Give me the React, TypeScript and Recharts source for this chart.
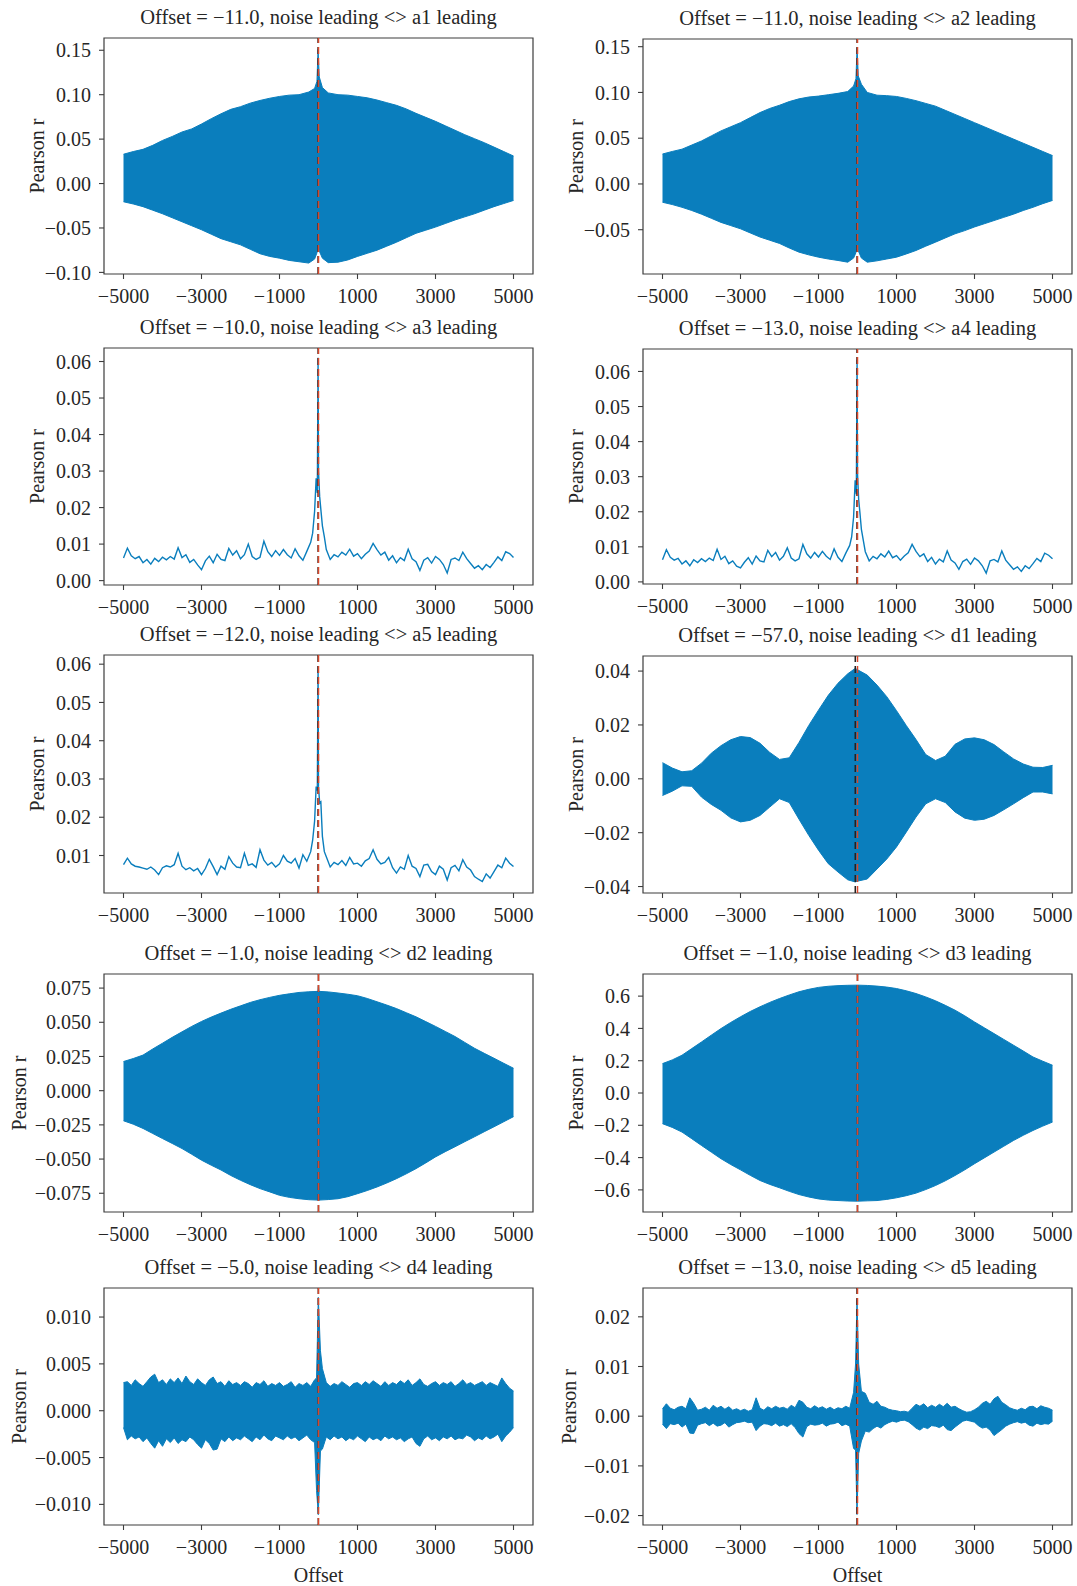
import { ComposedChart, Area, Line, XAxis, YAxis, ReferenceLine, ReferenceArea } from 'recharts';

const FONT = '"Liberation Serif", "Times New Roman", serif';
const BLUE = '#0a7ebd';
const RED = '#d9472b';
const INK = '#262626';
const FRAME = '#3d3d3d';

const X_TICKS = [-5000, -3000, -1000, 1000, 3000, 5000];
const X_DOMAIN: [number, number] = [-5500, 5500];

// evenly spaced offset grid
const range = (from: number, to: number, step: number) => {
  const out: number[] = [];
  for (let v = from; v <= to; v += step) out.push(v);
  return out;
};

// ---- a1 / a2 envelopes ----
const aEnvX = [...range(-5000, -250, 250), -100, -40, -11, 20, 100, ...range(250, 5000, 250)];
const a1Hi = [0.033, 0.036, 0.0385, 0.043, 0.0485, 0.053, 0.058, 0.0615, 0.067, 0.073, 0.0785, 0.0835, 0.0865, 0.0905, 0.0935, 0.096, 0.098, 0.0995, 0.1, 0.103,
  0.107, 0.115, 0.151, 0.12, 0.108,
  0.102, 0.1, 0.0995, 0.098, 0.0965, 0.094, 0.091, 0.088, 0.084, 0.079, 0.0745, 0.07, 0.065, 0.06, 0.055, 0.0505, 0.046, 0.041, 0.036, 0.031];
const a1Lo = [-0.0205, -0.023, -0.026, -0.03, -0.034, -0.0385, -0.043, -0.0475, -0.052, -0.057, -0.062, -0.0655, -0.069, -0.074, -0.079, -0.082, -0.084, -0.0865, -0.088, -0.0895,
  -0.085, -0.078, -0.072, -0.076, -0.084,
  -0.089, -0.0885, -0.086, -0.082, -0.0785, -0.075, -0.0705, -0.066, -0.061, -0.056, -0.0525, -0.049, -0.045, -0.041, -0.0375, -0.034, -0.03, -0.026, -0.0225, -0.019];
const a2Hi = [0.0327, 0.0355, 0.038, 0.0425, 0.047, 0.0525, 0.058, 0.0625, 0.067, 0.0725, 0.078, 0.0825, 0.086, 0.09, 0.093, 0.095, 0.096, 0.0975, 0.099, 0.101,
  0.107, 0.115, 0.149, 0.118, 0.109,
  0.1, 0.097, 0.0965, 0.0956, 0.0935, 0.091, 0.088, 0.085, 0.0805, 0.076, 0.0715, 0.067, 0.0625, 0.058, 0.0535, 0.049, 0.0445, 0.04, 0.0355, 0.031];
const a2Lo = [-0.02, -0.0225, -0.0255, -0.029, -0.033, -0.0375, -0.042, -0.0455, -0.049, -0.0535, -0.058, -0.0615, -0.065, -0.07, -0.0745, -0.0775, -0.08, -0.082, -0.0836, -0.0855,
  -0.081, -0.075, -0.069, -0.073, -0.081,
  -0.0855, -0.084, -0.082, -0.08, -0.0765, -0.0727, -0.068, -0.0636, -0.059, -0.0545, -0.051, -0.047, -0.0435, -0.04, -0.0365, -0.033, -0.029, -0.0255, -0.0215, -0.018];

// ---- a3 / a4 / a5 lines ----
const lineX = [...range(-5000, -200, 100), -150, -100, -60, -30, -11, 0, 30, 60, 100, 150, 200, ...range(300, 5000, 100)];
const a3R = [
  0.0062, 0.0089, 0.0068, 0.006, 0.0066, 0.0049, 0.0058, 0.0045, 0.0061, 0.0052,
  0.0064, 0.0057, 0.0066, 0.0059, 0.009, 0.0063, 0.0071, 0.005, 0.0058, 0.0043,
  0.003, 0.0054, 0.0067, 0.0049, 0.0072, 0.0058, 0.0055, 0.0088, 0.007, 0.0082,
  0.006, 0.0071, 0.01, 0.0066, 0.0058, 0.0064, 0.0108, 0.0079, 0.0066, 0.0082,
  0.0069, 0.0085, 0.0071, 0.0062, 0.0087, 0.0068, 0.0056, 0.008, 0.0105,
  0.013, 0.019, 0.028, 0.024, 0.061, 0.03, 0.023, 0.0195, 0.015, 0.012, 0.0085,
  0.0058, 0.0071, 0.0065, 0.0078, 0.007, 0.0086, 0.0067,
  0.0074, 0.006, 0.0072, 0.0081, 0.0102, 0.0085, 0.007, 0.0078, 0.0056, 0.0068,
  0.0049, 0.0063, 0.0055, 0.0086, 0.006, 0.0052, 0.0028, 0.0056, 0.0063, 0.0048,
  0.0066, 0.0058, 0.0044, 0.0021, 0.0058, 0.0062, 0.0055, 0.0078, 0.006, 0.0047,
  0.0034, 0.0041, 0.003, 0.0044, 0.0036, 0.005, 0.0065, 0.0055, 0.0079, 0.0074, 0.0063];
const a4R = [
  0.0063, 0.0092, 0.007, 0.0062, 0.0067, 0.0051, 0.006, 0.0046, 0.0063, 0.0055,
  0.0066, 0.0058, 0.0068, 0.0061, 0.0093, 0.0064, 0.0073, 0.0052, 0.006, 0.0045,
  0.004, 0.0056, 0.0069, 0.0051, 0.0074, 0.006, 0.0057, 0.009, 0.0072, 0.0084,
  0.0062, 0.0073, 0.0097, 0.0068, 0.006, 0.0066, 0.0107, 0.008, 0.0068, 0.0084,
  0.0071, 0.0087, 0.0073, 0.0064, 0.0094, 0.007, 0.0058, 0.0082, 0.0104,
  0.0128, 0.0185, 0.029, 0.025, 0.0633, 0.031, 0.0235, 0.02, 0.015, 0.0118, 0.0086,
  0.006, 0.0073, 0.0066, 0.008, 0.0071, 0.0088, 0.0069,
  0.0075, 0.0062, 0.0074, 0.0083, 0.0107, 0.0087, 0.0072, 0.008, 0.0058, 0.007,
  0.0051, 0.0065, 0.0057, 0.0088, 0.0062, 0.0054, 0.0036, 0.0058, 0.0065, 0.005,
  0.0068, 0.006, 0.0046, 0.0025, 0.006, 0.0064, 0.0057, 0.0088, 0.0062, 0.0049,
  0.0036, 0.0043, 0.003, 0.0046, 0.0038, 0.0052, 0.0067, 0.0058, 0.0082, 0.0076, 0.0066];
const a5R = [
  0.0076, 0.0093, 0.0078, 0.0072, 0.007, 0.0067, 0.0064, 0.007, 0.0062, 0.005,
  0.0068, 0.0073, 0.007, 0.0076, 0.0106, 0.0072, 0.0063, 0.0068, 0.006, 0.0066,
  0.005, 0.0066, 0.009, 0.0071, 0.005, 0.0072, 0.0064, 0.0097, 0.008, 0.007,
  0.0068, 0.0106, 0.0074, 0.0078, 0.0069, 0.0115, 0.0088, 0.0075, 0.0082, 0.007,
  0.0078, 0.01, 0.0085, 0.008, 0.0092, 0.0067, 0.0102, 0.0085, 0.011,
  0.014, 0.019, 0.028, 0.027, 0.0595, 0.028, 0.0237, 0.024, 0.015, 0.011, 0.0097,
  0.007, 0.0082, 0.0076, 0.0087, 0.0074, 0.0095, 0.0078,
  0.008, 0.0072, 0.0086, 0.0092, 0.0115, 0.009, 0.0078, 0.0082, 0.0095, 0.0068,
  0.0054, 0.007, 0.0064, 0.01, 0.0072, 0.0066, 0.0045, 0.0075, 0.0077, 0.0058,
  0.005, 0.0072, 0.0064, 0.0036, 0.0068, 0.0074, 0.006, 0.0089, 0.007, 0.0062,
  0.0045, 0.0038, 0.0032, 0.0052, 0.0041, 0.0058, 0.0075, 0.0068, 0.0093, 0.008, 0.0071];

// ---- d1 envelope ----
const d1X = [...range(-5000, -250, 250), -57, 0, ...range(250, 5000, 250)];
const d1Hi = [0.006, 0.004, 0.0026, 0.003, 0.0058, 0.0095, 0.0123, 0.0145, 0.0157, 0.0153, 0.0132, 0.0098, 0.0072, 0.0078, 0.0135, 0.0198, 0.0255, 0.031, 0.0355, 0.039,
  0.041, 0.0405,
  0.0385, 0.0348, 0.0305, 0.0253, 0.0198, 0.0146, 0.009, 0.0068, 0.0084, 0.0128, 0.0148, 0.0152, 0.0145, 0.0127, 0.01, 0.0074, 0.0055, 0.0043, 0.0042, 0.005];
const d1Lo = [-0.0062, -0.0046, -0.0026, -0.0028, -0.0068, -0.0095, -0.0117, -0.0145, -0.016, -0.0154, -0.0136, -0.0105, -0.0074, -0.0088, -0.015, -0.021, -0.0265, -0.0315, -0.0346, -0.0375,
  -0.0383, -0.038,
  -0.0372, -0.0335, -0.0298, -0.0253, -0.0198, -0.0142, -0.0093, -0.0074, -0.0088, -0.0123, -0.0146, -0.0154, -0.015, -0.0136, -0.0115, -0.0093, -0.007, -0.0049, -0.0049, -0.0056];

// ---- d2 envelope ----
const d2X = [...range(-5000, -250, 250), -10, -1, 10, ...range(250, 5000, 250)];
const d2Hi = [0.0213, 0.0235, 0.026, 0.0305, 0.0347, 0.039, 0.043, 0.047, 0.0506, 0.0538, 0.0567, 0.0595, 0.062, 0.0645, 0.0665, 0.0682, 0.0697, 0.0708, 0.0718, 0.0723,
  0.0726, 0.0765, 0.0726,
  0.0722, 0.0714, 0.0705, 0.0694, 0.0674, 0.065, 0.0626, 0.06, 0.057, 0.054, 0.0505, 0.047, 0.0433, 0.0396, 0.0353, 0.031, 0.0273, 0.0237, 0.02, 0.0164];
const d2Lo = [-0.022, -0.0245, -0.0276, -0.0313, -0.035, -0.0386, -0.0423, -0.0465, -0.0508, -0.0545, -0.058, -0.062, -0.0655, -0.0687, -0.0716, -0.074, -0.0765, -0.078, -0.079, -0.0797,
  -0.08, -0.0805, -0.08,
  -0.0796, -0.079, -0.0775, -0.0753, -0.073, -0.0704, -0.0675, -0.0643, -0.0608, -0.057, -0.0528, -0.0484, -0.0446, -0.041, -0.0373, -0.0337, -0.03, -0.0264, -0.0227, -0.019];

// ---- d3 envelope ----
const d3X = range(-5000, 5000, 250);
const d3Hi = [0.182, 0.205, 0.234, 0.275, 0.316, 0.358, 0.399, 0.437, 0.472, 0.505, 0.534, 0.561, 0.585, 0.607, 0.627, 0.642, 0.654, 0.661, 0.665, 0.667,
  0.668, 0.666, 0.662, 0.656, 0.647, 0.633, 0.616, 0.595, 0.571, 0.543, 0.513, 0.478, 0.44, 0.404, 0.368, 0.332, 0.296, 0.26, 0.223, 0.197, 0.172];
const d3Lo = [-0.19, -0.213, -0.242, -0.283, -0.325, -0.366, -0.407, -0.443, -0.476, -0.51, -0.542, -0.566, -0.587, -0.609, -0.629, -0.644, -0.656, -0.663, -0.666, -0.669,
  -0.67, -0.668, -0.666, -0.659, -0.649, -0.636, -0.62, -0.598, -0.573, -0.544, -0.511, -0.476, -0.438, -0.402, -0.366, -0.33, -0.294, -0.262, -0.232, -0.205, -0.18];

// ---- d4 envelope ----
const d4X = [...range(-5000, -100, 100), -50, -5, 50, ...range(100, 5000, 100)];
const d4Hi = [
  0.003, 0.0031, 0.0027, 0.0033, 0.0029, 0.0026, 0.0031, 0.0036, 0.0039, 0.003,
  0.0033, 0.0028, 0.0034, 0.003, 0.0035, 0.0029, 0.0037, 0.0031, 0.0028, 0.0034,
  0.003, 0.0027, 0.0033, 0.0036, 0.0029, 0.0031, 0.0026, 0.0032, 0.0028, 0.003,
  0.0027, 0.0031, 0.0029, 0.0025, 0.003, 0.0028, 0.0032, 0.0026, 0.0029, 0.0027,
  0.003, 0.0026, 0.0028, 0.0031, 0.0025, 0.0029, 0.0027, 0.003, 0.0026, 0.0033,
  0.0035, 0.0121, 0.0064,
  0.0045, 0.003, 0.0026, 0.0029, 0.0027, 0.0031, 0.0028, 0.0025, 0.0029, 0.003,
  0.0027, 0.0031, 0.0028, 0.0032, 0.0029, 0.0026, 0.0031, 0.0027, 0.003, 0.0028,
  0.0032, 0.0029, 0.0033, 0.0027, 0.003, 0.0034, 0.0028, 0.0026, 0.0029, 0.0031,
  0.0027, 0.003, 0.0028, 0.0031, 0.0026, 0.0029, 0.0033, 0.0028, 0.003, 0.0027,
  0.0029, 0.0031, 0.0027, 0.003, 0.0028, 0.0026, 0.0035, 0.0029, 0.0024, 0.0021];
const d4Lo = [
  -0.0018, -0.0031, -0.0027, -0.003, -0.0028, -0.0033, -0.0029, -0.0035, -0.004, -0.0032,
  -0.0038, -0.003, -0.0034, -0.0029, -0.0035, -0.0031, -0.0033, -0.0028, -0.0031, -0.0036,
  -0.004, -0.0031, -0.0035, -0.0042, -0.0041, -0.003, -0.0033, -0.0028, -0.0032, -0.0029,
  -0.0031, -0.0027, -0.003, -0.0033, -0.0028, -0.0031, -0.0026, -0.003, -0.0032, -0.0027,
  -0.0029, -0.0031, -0.0027, -0.003, -0.0028, -0.0032, -0.0029, -0.0026, -0.0031, -0.0034,
  -0.0085, -0.0111, -0.0043,
  -0.0041, -0.0028, -0.0031, -0.0027, -0.003, -0.0028, -0.0032, -0.0029, -0.0031, -0.0027,
  -0.003, -0.0033, -0.0028, -0.0031, -0.0029, -0.0032, -0.0027, -0.003, -0.0028, -0.0031,
  -0.0029, -0.0033, -0.003, -0.0028, -0.0035, -0.0038, -0.003, -0.0027, -0.0031, -0.0029,
  -0.0032, -0.0028, -0.003, -0.0027, -0.0031, -0.0029, -0.003, -0.0026, -0.0028, -0.0032,
  -0.0029, -0.0031, -0.0027, -0.003, -0.0028, -0.0025, -0.0033, -0.0027, -0.0023, -0.0018];

// ---- d5 envelope ----
const d5X = [...range(-5000, -100, 100), -50, -13, 30, ...range(100, 5000, 100)];
const d5Hi = [
  0.0015, 0.0025, 0.0016, 0.0013, 0.0018, 0.002, 0.0015, 0.0037, 0.0026, 0.0012,
  0.0014, 0.0018, 0.0012, 0.0022, 0.0016, 0.002, 0.0014, 0.0019, 0.0012, 0.0015,
  0.0011, 0.0014, 0.001, 0.0013, 0.0037, 0.0016, 0.0012, 0.0019, 0.0015, 0.002,
  0.0016, 0.0018, 0.0014, 0.0022, 0.0017, 0.0032, 0.0028, 0.0018, 0.0015, 0.0021,
  0.0016, 0.0019, 0.0014, 0.0018, 0.0013, 0.0017, 0.0015, 0.002, 0.0016, 0.0048,
  0.0105, 0.0235, 0.0105,
  0.005, 0.0046, 0.0028, 0.0024, 0.003, 0.002, 0.0018, 0.0014, 0.0012, 0.0011,
  0.0009, 0.001, 0.0008, 0.0016, 0.0024, 0.002, 0.0025, 0.0017, 0.0022, 0.0018,
  0.0024, 0.0019, 0.0026, 0.0018, 0.002, 0.0015, 0.0011, 0.0008, 0.0009, 0.0013,
  0.0018, 0.0026, 0.003, 0.0024, 0.0035, 0.004, 0.0028, 0.0023, 0.0017, 0.0014,
  0.0012, 0.0016, 0.0013, 0.0019, 0.002, 0.0015, 0.0021, 0.0018, 0.0016, 0.0012];
const d5Lo = [
  -0.0016, -0.0025, -0.0015, -0.0017, -0.0014, -0.0022, -0.0016, -0.0034, -0.0035, -0.0018,
  -0.0015, -0.0013, -0.0019, -0.0014, -0.002, -0.0018, -0.0013, -0.0022, -0.0017, -0.0013,
  -0.0012, -0.001, -0.0013, -0.0012, -0.0029, -0.002, -0.0015, -0.0016, -0.0019, -0.0014,
  -0.002, -0.0017, -0.0021, -0.0015, -0.0023, -0.0035, -0.0042, -0.0021, -0.0016, -0.0018,
  -0.0017, -0.0014, -0.002, -0.0016, -0.0015, -0.0012, -0.0019, -0.0016, -0.002, -0.0065,
  -0.0068, -0.0198, -0.0075,
  -0.005, -0.003, -0.0032, -0.0025, -0.002, -0.0024, -0.0017, -0.0013, -0.001, -0.0012,
  -0.0009, -0.0008, -0.0011, -0.0017, -0.0024, -0.0028, -0.0022, -0.0025, -0.0019, -0.002,
  -0.0023, -0.0018, -0.0027, -0.0029, -0.0022, -0.0016, -0.001, -0.0008, -0.001, -0.0012,
  -0.0019, -0.0024, -0.0022, -0.0028, -0.0039, -0.0033, -0.0027, -0.002, -0.0016, -0.0013,
  -0.0011, -0.0014, -0.0012, -0.0018, -0.002, -0.0014, -0.0017, -0.0015, -0.0016, -0.001];

// best-lag offsets per band
const names = ['a1', 'a2', 'a3', 'a4', 'a5', 'd1', 'd2', 'd3', 'd4', 'd5'];
const bestOffsets = [-11, -11, -10, -13, -12, -57, -1, -1, -5, -13];

const bandRows = (xs: number[], lo: number[], hi: number[]) => xs.map((x, i) => ({ x, band: [lo[i], hi[i]] }));
const lineRows = (xs: number[], ys: number[]) => xs.map((x, i) => ({ x, r: ys[i] }));

const minus = (s: string) => s.replace('-', '\u2212');
const fmtNum = (d: number) => (v: number) => minus((Math.abs(v) < 1e-12 ? 0 : v).toFixed(d));

type PanelSpec = {
  left: number;
  top: number;
  bottom: number;
  kind: 'band' | 'line';
  rows: Array<Record<string, unknown>>;
  yDomain: [number, number];
  yTicks: number[];
  decimals: number;
  labelX: number;
};

const W = 429;
const PAD_L = 100;
const PAD_R = 8;
const PAD_T = 8;
const PAD_B = 44;
const LEFT_COL = 104;
const RIGHT_COL = 643;

const panels: PanelSpec[] = [
  { left: LEFT_COL, top: 38, bottom: 274, kind: 'band', rows: bandRows(aEnvX, a1Lo, a1Hi), yDomain: [-0.1018, 0.1638], yTicks: [-0.1, -0.05, 0, 0.05, 0.1, 0.15], decimals: 2, labelX: 36.5 },
  { left: RIGHT_COL, top: 39, bottom: 274, kind: 'band', rows: bandRows(aEnvX, a2Lo, a2Hi), yDomain: [-0.0984, 0.1584], yTicks: [-0.05, 0, 0.05, 0.1, 0.15], decimals: 2, labelX: 575.5 },
  { left: LEFT_COL, top: 348, bottom: 585, kind: 'line', rows: lineRows(lineX, a3R), yDomain: [-0.0012, 0.0637], yTicks: [0, 0.01, 0.02, 0.03, 0.04, 0.05, 0.06], decimals: 2, labelX: 36.5 },
  { left: RIGHT_COL, top: 349, bottom: 584, kind: 'line', rows: lineRows(lineX, a4R), yDomain: [-0.0006, 0.0664], yTicks: [0, 0.01, 0.02, 0.03, 0.04, 0.05, 0.06], decimals: 2, labelX: 575.5 },
  { left: LEFT_COL, top: 655, bottom: 893, kind: 'line', rows: lineRows(lineX, a5R), yDomain: [0.0002, 0.0624], yTicks: [0.01, 0.02, 0.03, 0.04, 0.05, 0.06], decimals: 2, labelX: 36.5 },
  { left: RIGHT_COL, top: 656, bottom: 893, kind: 'band', rows: bandRows(d1X, d1Lo, d1Hi), yDomain: [-0.0424, 0.0456], yTicks: [-0.04, -0.02, 0, 0.02, 0.04], decimals: 2, labelX: 575.5 },
  { left: LEFT_COL, top: 974, bottom: 1212, kind: 'band', rows: bandRows(d2X, d2Lo, d2Hi), yDomain: [-0.0887, 0.0853], yTicks: [-0.075, -0.05, -0.025, 0, 0.025, 0.05, 0.075], decimals: 3, labelX: 18.5 },
  { left: RIGHT_COL, top: 974, bottom: 1212, kind: 'band', rows: bandRows(d3X, d3Lo, d3Hi), yDomain: [-0.737, 0.737], yTicks: [-0.6, -0.4, -0.2, 0, 0.2, 0.4, 0.6], decimals: 1, labelX: 575.5 },
  { left: LEFT_COL, top: 1288, bottom: 1525, kind: 'band', rows: bandRows(d4X, d4Lo, d4Hi), yDomain: [-0.0122, 0.0131], yTicks: [-0.01, -0.005, 0, 0.005, 0.01], decimals: 3, labelX: 18.5 },
  { left: RIGHT_COL, top: 1288, bottom: 1525, kind: 'band', rows: bandRows(d5X, d5Lo, d5Hi), yDomain: [-0.0219, 0.0258], yTicks: [-0.02, -0.01, 0, 0.01, 0.02], decimals: 2, labelX: 568.5 },
];

const tickStyle = { fontFamily: FONT, fontSize: 20, fill: INK };

function Panel({ spec, lag }: { spec: PanelSpec; lag: number }) {
  const h = spec.bottom - spec.top;
  return (
    <div style={{ position: 'absolute', left: spec.left - PAD_L, top: spec.top - PAD_T }}>
      <ComposedChart
        width={PAD_L + W + PAD_R}
        height={PAD_T + h + PAD_B}
        data={spec.rows}
        margin={{ top: PAD_T, right: PAD_R, left: 0, bottom: 0 }}
      >
        <XAxis
          type="number"
          dataKey="x"
          domain={X_DOMAIN}
          ticks={X_TICKS}
          interval={0}
          allowDataOverflow
          height={PAD_B}
          axisLine={false}
          tickLine={{ stroke: FRAME, strokeWidth: 1.1 }}
          tickSize={5}
          tickMargin={10}
          tick={tickStyle}
          tickFormatter={fmtNum(0)}
        />
        <YAxis
          type="number"
          domain={spec.yDomain}
          ticks={spec.yTicks}
          interval={0}
          allowDataOverflow
          width={PAD_L}
          axisLine={false}
          tickLine={{ stroke: FRAME, strokeWidth: 1.1 }}
          tickSize={5}
          tickMargin={8}
          tick={tickStyle}
          tickFormatter={fmtNum(spec.decimals)}
        />
        {spec.kind === 'band' ? (
          <Area
            type="linear"
            dataKey="band"
            stroke={BLUE}
            strokeWidth={1}
            fill={BLUE}
            fillOpacity={1}
            dot={false}
            activeDot={false}
            isAnimationActive={false}
          />
        ) : (
          <Line
            type="linear"
            dataKey="r"
            stroke={BLUE}
            strokeWidth={1.4}
            dot={false}
            activeDot={false}
            isAnimationActive={false}
          />
        )}
        <ReferenceLine x={lag} stroke="#222" strokeWidth={1.5} strokeDasharray="7 4" />
        <ReferenceLine x={0} stroke={RED} strokeWidth={1.5} strokeDasharray="7 4" />
        <ReferenceArea
          x1={X_DOMAIN[0]}
          x2={X_DOMAIN[1]}
          y1={spec.yDomain[0]}
          y2={spec.yDomain[1]}
          fill="none"
          stroke={FRAME}
          strokeWidth={1.2}
          ifOverflow="visible"
        />
      </ComposedChart>
    </div>
  );
}

export default function App() {
  return (
    <div style={{ position: 'absolute', left: 0, top: 0, width: 1077, height: 1586, background: '#fff' }}>
      {panels.map((p, i) => (
        <Panel key={names[i]} spec={p} lag={bestOffsets[i]} />
      ))}
      <svg width={1077} height={1586} style={{ position: 'absolute', left: 0, top: 0, pointerEvents: 'none' }}>
        {panels.map((p, i) => {
          const cx = p.left + W / 2;
          const cy = (p.top + p.bottom) / 2;
          return (
            <g key={names[i]} fontFamily={FONT} fill={INK}>
              <text x={cx} y={p.top - 14.5} textAnchor="middle" fontSize={20.5}>
                {`Offset = ${minus(bestOffsets[i].toFixed(1))}, noise leading <> ${names[i]} leading`}
              </text>
              <text
                x={p.labelX}
                y={cy}
                textAnchor="middle"
                dominantBaseline="central"
                fontSize={20}
                transform={`rotate(-90 ${p.labelX} ${cy})`}
              >
                Pearson r
              </text>
            </g>
          );
        })}
        <text x={LEFT_COL + W / 2} y={1582} textAnchor="middle" fontFamily={FONT} fontSize={20} fill={INK}>
          Offset
        </text>
        <text x={RIGHT_COL + W / 2} y={1582} textAnchor="middle" fontFamily={FONT} fontSize={20} fill={INK}>
          Offset
        </text>
      </svg>
    </div>
  );
}
